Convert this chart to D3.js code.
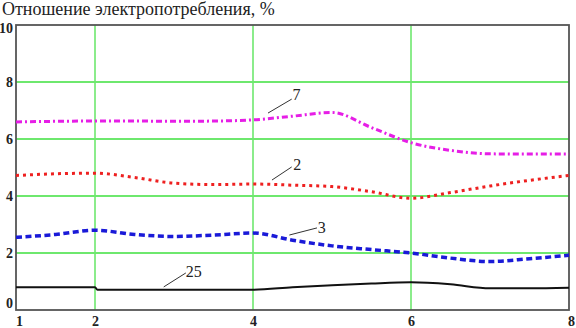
<!DOCTYPE html>
<html>
<head>
<meta charset="utf-8">
<script src="https://cdn.jsdelivr.net/npm/d3@7"></script>
<style>
  body { margin: 0; background: #fff; }
  svg { display: block; }
  text { font-family: "Liberation Serif", "Times New Roman", serif; }
</style>
</head>
<body>
<svg id="chart" width="576" height="328"></svg>
<script>
// chart values
var titleText = "Отношение электропотребления, %";
var xTicks = [1, 2, 4, 6, 8];
var yTicks = [0, 2, 4, 6, 8, 10];

var xs = [1, 1.5, 2, 2.5, 3, 3.5, 4, 4.5, 5, 5.5, 6, 6.5, 7, 7.5, 8];
var s7 = [6.6, 6.62, 6.63, 6.63, 6.62, 6.63, 6.67, 6.8, 6.93, 6.4, 5.87, 5.6, 5.48, 5.47, 5.47];
var s2 = [4.72, 4.78, 4.8, 4.65, 4.45, 4.4, 4.42, 4.38, 4.33, 4.15, 3.92, 4.12, 4.35, 4.55, 4.72];
var s3 = [2.55, 2.65, 2.8, 2.65, 2.58, 2.63, 2.7, 2.45, 2.25, 2.12, 2.0, 1.82, 1.7, 1.8, 1.92];
var xs25 = [1, 2, 2.03, 3, 4, 4.5, 5, 5.5, 6, 6.5, 7, 7.5, 8];
var s25 = [0.8, 0.8, 0.71, 0.71, 0.71, 0.8, 0.87, 0.93, 0.97, 0.9, 0.76, 0.76, 0.78];

// curve labels: leader from (x0,y0) to (x1,y1), text at (tx,ty), data units
var labelNames = ["7", "2", "3", "25"];
var labelLead = [[4.19, 6.91, 4.49, 7.4], [4.24, 4.56, 4.49, 5.02], [4.46, 2.63, 4.81, 2.88], [2.87, 0.81, 3.15, 1.3]];
var labelPos = [[4.55, 7.55], [4.56, 5.12], [4.87, 2.91], [3.25, 1.37]];

(function () {
var svg = d3.select("#chart");
var pl = 16, pr = 569, pt = 25, pb = 310;

var x = d3.scaleLinear().domain([1, 8]).range([pl, pr]);
var y = d3.scaleLinear().domain([0, 10]).range([pb, pt]);

var grid = "#6ee86e";

// grid
svg.append("g").selectAll("line").data([2, 4, 6, 8]).enter().append("line")
    .attr("x1", pl).attr("x2", pr)
    .attr("y1", function (d) { return y(d); }).attr("y2", function (d) { return y(d); })
    .attr("stroke", grid).attr("stroke-width", 2);
svg.append("g").selectAll("line").data([2, 4, 6]).enter().append("line")
    .attr("y1", pt).attr("y2", pb)
    .attr("x1", function (d) { return x(d); }).attr("x2", function (d) { return x(d); })
    .attr("stroke", grid).attr("stroke-width", 1.6);

// frame
svg.append("rect").attr("x", pl).attr("y", pt)
    .attr("width", pr - pl).attr("height", pb - pt)
    .attr("fill", "none").attr("stroke", "#555").attr("stroke-width", 1.8);

// axes labels (no tick marks in the original)
var xAxis = d3.axisBottom(x).tickValues(xTicks).tickSize(0).tickPadding(6).tickFormat(d3.format("d"));
var yAxis = d3.axisLeft(y).tickValues(yTicks).tickSize(0).tickPadding(3).tickFormat(d3.format("d"));

var gx = svg.append("g").attr("transform", "translate(0," + pb + ")").call(xAxis);
var gy = svg.append("g").attr("transform", "translate(" + pl + ",0)").call(yAxis);
[gx, gy].forEach(function (g) {
    g.select(".domain").remove();
    g.attr("font-family", "Liberation Serif");
    g.selectAll("text")
        .attr("font-weight", "bold")
        .attr("font-size", 14)
        .attr("fill", "#222");
});
gx.selectAll("text").filter(function (d) { return d == 1; }).attr("dx", 3);
gx.selectAll("text").filter(function (d) { return d == 8; }).attr("dx", 2);
gy.selectAll("text").filter(function (d) { return d == 0; }).attr("dy", "-0.2em");
gy.selectAll("text").filter(function (d) { return d == 10; }).attr("dy", "0.5em");

// series
var line = d3.line().x(function (d) { return x(d[0]); }).y(function (d) { return y(d[1]); });

function draw(xv, yv, color, width, dash, curve) {
    var pts = xv.map(function (v, i) { return [v, yv[i]]; });
    svg.append("path")
        .attr("d", line.curve(curve || d3.curveMonotoneX)(pts))
        .attr("fill", "none")
        .attr("stroke", color)
        .attr("stroke-width", width)
        .attr("stroke-dasharray", dash);
}

draw(xs, s7, "#e61ee6", 3, "6,3,2,3");
draw(xs, s2, "#ee2020", 3, "3,4");
draw(xs, s3, "#1a1ad8", 3.5, "6,3.5");
draw(xs25, s25, "#111", 2);

// curve labels
labelNames.forEach(function (name, i) {
    var l = labelLead[i], p = labelPos[i];
    svg.append("line")
        .attr("x1", x(l[0])).attr("y1", y(l[1]))
        .attr("x2", x(l[2])).attr("y2", y(l[3]))
        .attr("stroke", "#333").attr("stroke-width", 1);
    svg.append("text")
        .attr("x", x(p[0])).attr("y", y(p[1]))
        .attr("dy", "0.35em")
        .attr("text-anchor", "middle")
        .attr("font-family", "Liberation Serif")
        .attr("font-size", 16)
        .attr("fill", "#222")
        .text(name);
});

// title
svg.append("text")
    .attr("x", 2).attr("y", 15)
    .attr("font-family", "Liberation Serif")
    .attr("font-size", 18)
    .attr("fill", "#222")
    .text(titleText);
})();
</script>
</body>
</html>
